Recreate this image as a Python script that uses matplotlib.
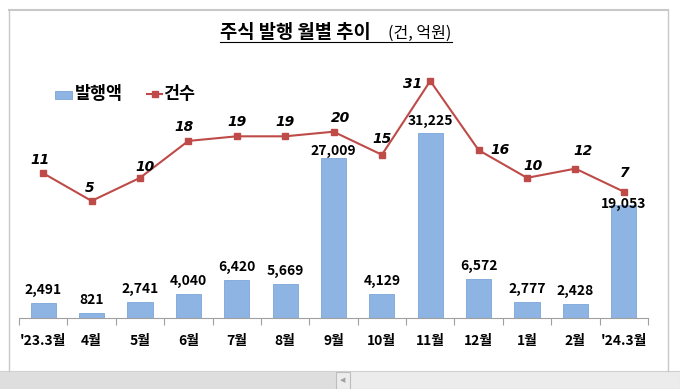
import matplotlib
matplotlib.use("Agg")
import matplotlib.pyplot as plt
from matplotlib.patches import Rectangle
from matplotlib.lines import Line2D

plt.rcParams['font.family'] = ['Noto Sans CJK KR', 'DejaVu Sans']

categories = ["'23.3월", "4월", "5월", "6월", "7월", "8월", "9월", "10월", "11월", "12월", "1월", "2월", "'24.3월"]
amount = [2491, 821, 2741, 4040, 6420, 5669, 27009, 4129, 31225, 6572, 2777, 2428, 19053]
counts = [11, 5, 10, 18, 19, 19, 20, 15, 31, 16, 10, 12, 7]

W, H = 680, 389
fig = plt.figure(figsize=(W / 100, H / 100), dpi=100)

def fx(px):
    return px / W

def fy(py):
    return 1 - py / H

PT = 72 / 100  # points per pixel

# frame decoration (screenshot borders)
fig.add_artist(Line2D([fx(9), fx(668)], [fy(10), fy(10)], color='#c8c8c8', lw=1.5))
fig.add_artist(Line2D([fx(9), fx(9)], [fy(10), fy(371)], color='#c8c8c8', lw=1.0))
fig.add_artist(Line2D([fx(668), fx(668)], [fy(10), fy(371)], color='#c8c8c8', lw=1.0))
fig.add_artist(Rectangle((0, 0), 1, fy(371), transform=fig.transFigure, facecolor='#ececec', edgecolor='#d0d0d0', lw=0.8))
fig.add_artist(Rectangle((0, 0), fx(336), fy(372), transform=fig.transFigure, facecolor='#dedede', edgecolor='none'))
fig.add_artist(Rectangle((fx(336), 0), fx(14), fy(372), transform=fig.transFigure, facecolor='#ececec', edgecolor='#bdbdbd', lw=0.8))
fig.text(fx(343), fy(380), "◀", ha='center', va='center', fontsize=5, color='#a0a0a0', family='DejaVu Sans')

# plot area
top_px, bot_px = 60, 318
left_px, right_px = 19, 648
bar_scale = 0.00593  # px per unit
ax = fig.add_axes([fx(left_px), fy(bot_px), fx(right_px - left_px), (bot_px - top_px) / H])
x = list(range(len(categories)))
ax.bar(x, amount, width=0.52, color='#8db4e2', edgecolor='#7aa5d8', lw=0.6, zorder=2)
ax.set_xlim(-0.5, len(categories) - 0.5)
ax.set_ylim(0, (bot_px - top_px) / bar_scale)
ax.set_yticks([])
for s in ['top', 'right', 'left']:
    ax.spines[s].set_visible(False)
ax.spines['bottom'].set_color('#a0a0a0')
ax.set_xticks([i - 0.5 for i in range(len(categories) + 1)])
ax.set_xticklabels([])
ax.tick_params(axis='x', length=5, color='#a0a0a0', direction='out')
for i, c in enumerate(categories):
    ax.annotate(c, (i, 0), xytext=(0, -23 * PT), textcoords='offset points', ha='center', va='center',
                fontsize=10, fontweight='bold', color='#000000')

bar_lab_off = [13, 13, 13, 13, 13, 13, 7, 13, 12, 13, 13, 13, 1]
for i, v in enumerate(amount):
    ax.annotate(f"{v:,}", (i, v), xytext=(0, bar_lab_off[i] * PT), textcoords='offset points',
                ha='center', va='center', fontsize=10, fontweight='bold', color='#000000', zorder=5)

ax2 = ax.twinx()
zero_px = 224
scale = 4.615
ax2.set_ylim((zero_px - bot_px) / scale, (zero_px - top_px) / scale)
ax2.plot(x, counts, color='#be4b48', lw=1.5, marker='s', ms=4.5, zorder=3)
ax2.set_yticks([])
for s in ['top', 'right', 'left', 'bottom']:
    ax2.spines[s].set_visible(False)

# label offsets in pixels (dx right, dy up)
line_off = [(-3, 13), (-2, 13), (5, 11), (-4, 14), (0, 14), (0, 14), (7, 14),
            (0, 16), (-18, -3), (21, 0), (6, 12), (8, 18), (1, 19)]
for i, v in enumerate(counts):
    dx, dy = line_off[i]
    ax2.annotate(str(v), (i, v), xytext=(dx * PT, dy * PT), textcoords='offset points', ha='center',
                 va='center', fontsize=10, fontweight='bold', fontstyle='italic', color='#000000',
                 family='DejaVu Sans', zorder=6)

# title
fig.text(fx(220), fy(32), "주식 발행 월별 추이", ha='left', va='center', fontsize=13.5, fontweight='bold')
fig.text(fx(388), fy(33), "(건, 억원)", ha='left', va='center', fontsize=11.5)
fig.add_artist(Line2D([fx(220), fx(452)], [fy(41.5), fy(41.5)], color='#000000', lw=0.8))

# legend
fig.add_artist(Rectangle((fx(55), fy(99)), fx(17), 8 / H, transform=fig.transFigure,
                         facecolor='#8db4e2', edgecolor='#7aa5d8', lw=0.6))
fig.text(fx(75), fy(94), "발행액", ha='left', va='center', fontsize=12.5, fontweight='bold')
fig.add_artist(Line2D([fx(147), fx(162)], [fy(94), fy(94)], color='#be4b48', lw=1.5))
fig.add_artist(Line2D([fx(154.5)], [fy(94)], color='#be4b48', marker='s', ms=4.5, lw=0))
fig.text(fx(163), fy(94), "건수", ha='left', va='center', fontsize=12.5, fontweight='bold')

fig.savefig("out.png", dpi=100)
